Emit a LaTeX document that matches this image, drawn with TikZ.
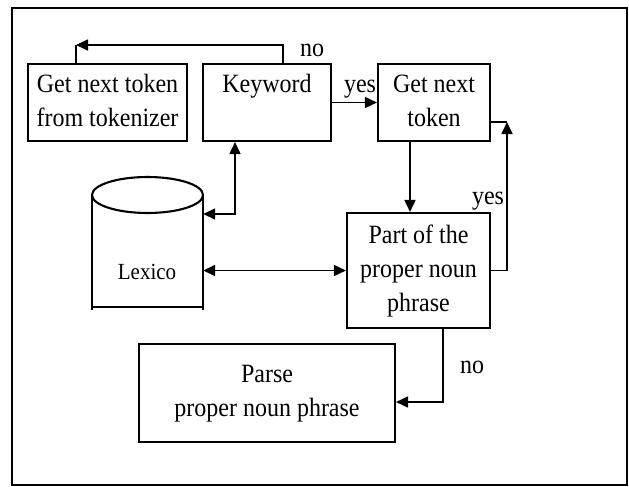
\documentclass[tikz,border=0pt]{standalone}
\usepackage{fontspec}
\usepackage{graphicx}
\setmainfont{Liberation Serif}
\usetikzlibrary{arrows.meta}
% slightly tall, centred multi-line text
\newcommand\tallstack[1]{\scalebox{1}[1.1]{\begin{tabular}{@{}c@{}}#1\end{tabular}}}
\begin{document}
\begin{tikzpicture}[x=1pt,y=-1pt,
  box/.style={draw,line width=2.1pt,inner sep=0pt,align=center,
    font=\fontsize{24}{31}\selectfont},
  conn/.style={line width=1.7pt},
  tip/.tip={Triangle[length=12pt,width=11pt]},
  arr/.style={conn,-tip},
  darr/.style={conn,tip-tip},
  lbl/.style={inner sep=0pt,font=\fontsize{24}{28}\selectfont}]
  \useasboundingbox (0,0) rectangle (629,487);
  % outer frame
  \draw[line width=1.4pt] (12,8) rectangle (627,485);

  % process boxes
  \node[box,minimum width=159pt,minimum height=77pt] (tok) at (107.5,102.5)
    {\tallstack{Get next token\\from tokenizer}};
  \node[box,minimum width=128pt,minimum height=77pt] (kw) at (267,102.5)
    {\tallstack{Keyword\\\mbox{}}};
  \node[box,minimum width=112pt,minimum height=77pt] (next) at (434,102.5)
    {\tallstack{Get next\\token}};
  \node[box,minimum width=143pt,minimum height=115pt] (part) at (418.5,270.5)
    {\tallstack{Part of the\\proper noun\\phrase}};
  \node[box,minimum width=256pt,minimum height=98pt] (parse) at (267,393)
    {\tallstack{Parse\\proper noun phrase}};

  % lexicon store (cylinder)
  \node[inner sep=0pt,minimum width=111pt,minimum height=130pt] (lex) at (147.5,242) {};
  \draw[line width=2.1pt] (147.5,195) ellipse [x radius=55.5pt,y radius=18pt];
  \draw[line width=2.1pt] (92,195) -- (92,310) (203,195) -- (203,310)
    (92,307) -- (203,307);
  \node[lbl,font=\fontsize{21}{25}\selectfont] (lexlbl) at (147,272)
    {\scalebox{1}[1.1]{Lexico}};

  % connectors
  \coordinate (noc) at (76,45);
  \coordinate (kwup) at (283,45);
  \draw[arr] (kw.north -| kwup) -- (kwup) -- (noc);
  \draw[conn] (tok.north -| noc) -- (noc);

  \draw[arr] (kw.east) -- (next.west);

  \coordinate (kwjoin) at (235,214);
  \draw[darr] (lex.east |- kwjoin) -- (kwjoin) -- (kw.south -| kwjoin);

  \coordinate (dropx) at (410,0);
  \draw[arr] (next.south -| dropx) -- (part.north -| dropx);

  \draw[darr] (lex.east |- part.west) -- (part.west);

  \coordinate (loopc) at (507,122);
  \draw[arr] (part.east) -| (loopc);
  \draw[conn] (next.east |- loopc) -- (loopc);

  \coordinate (noc2) at (443,402);
  \draw[arr] (part.south -| noc2) -- (noc2) -- (parse.east |- noc2);

  % branch labels
  \node[lbl] (lno1) at (312,50) {\scalebox{1}[1.1]{no}};
  \node[lbl] (lyes1) at (360,89) {\scalebox{1}[1.1]{yes}};
  \node[lbl] (lyes2) at (488,201) {\scalebox{1}[1.1]{yes}};
  \node[lbl] (lno2) at (472,367) {\scalebox{1}[1.1]{no}};
\end{tikzpicture}
\end{document}
